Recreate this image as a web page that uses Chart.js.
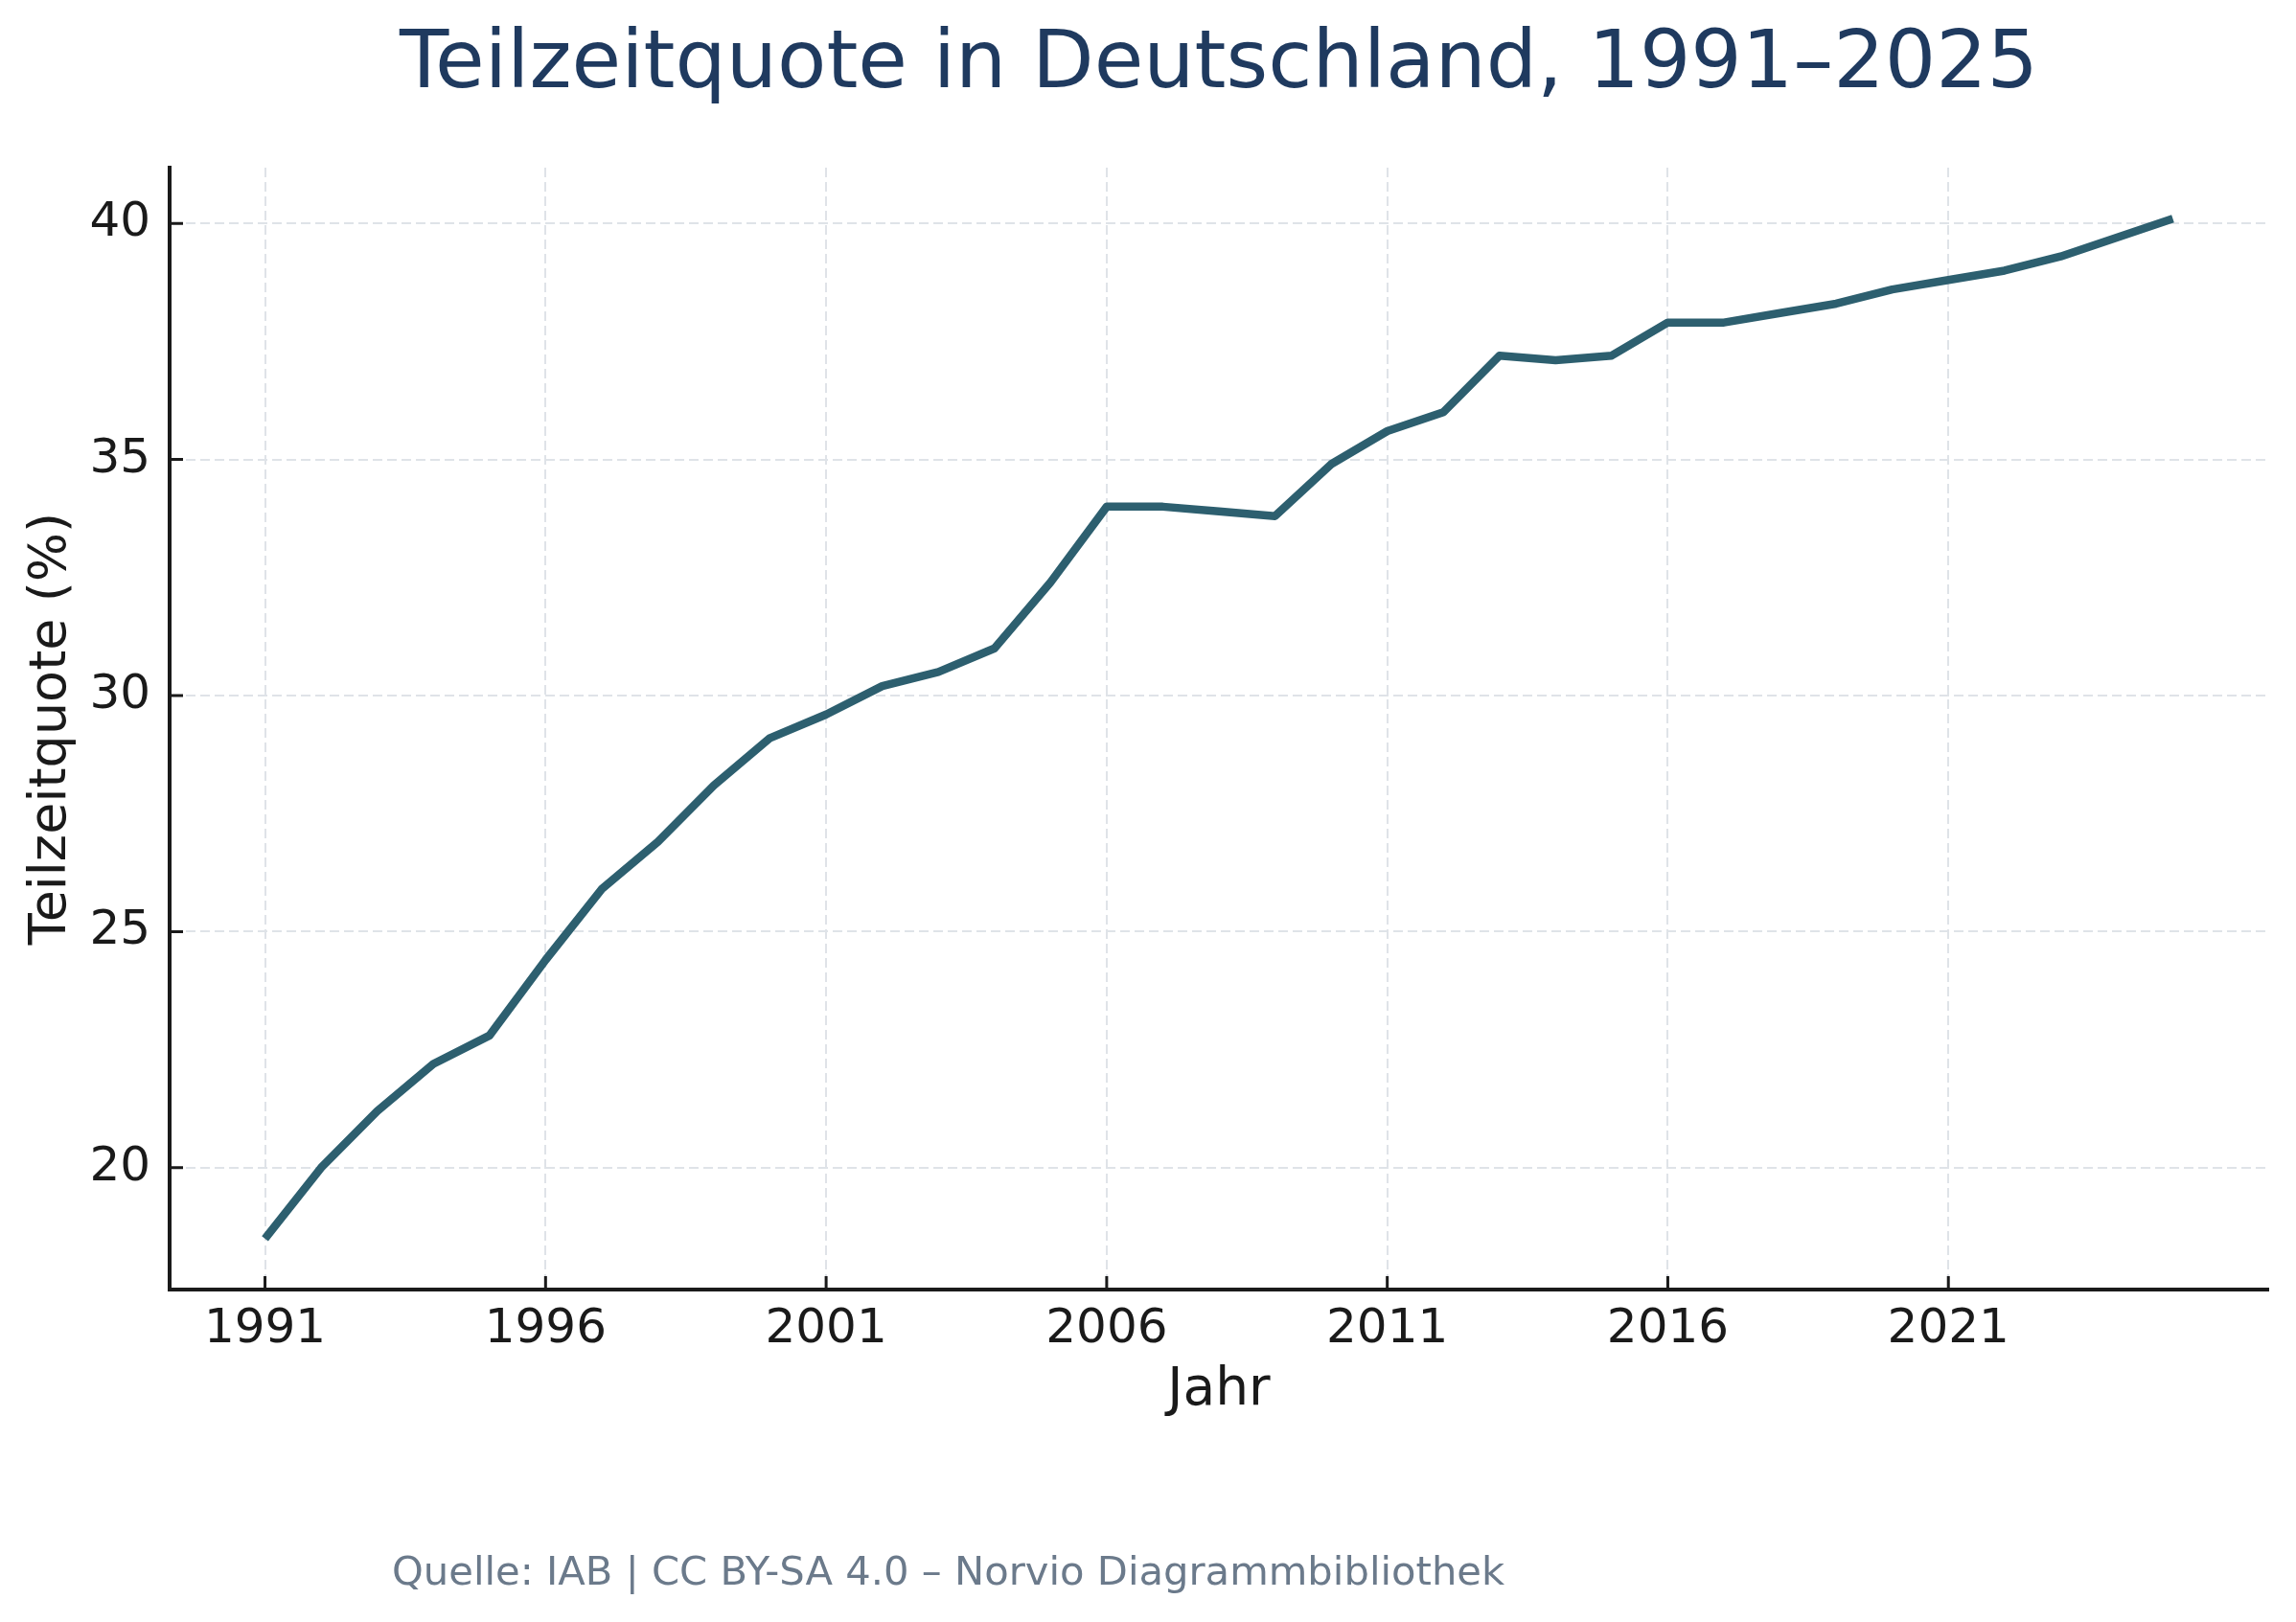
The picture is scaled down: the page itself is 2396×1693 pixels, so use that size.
<!DOCTYPE html>
<html lang="de">
<head>
<meta charset="utf-8">
<title>Teilzeitquote in Deutschland, 1991–2025</title>
<script src="https://cdn.jsdelivr.net/npm/chart.js@4.4.1/dist/chart.umd.min.js"></script>
<style>
  html, body { margin: 0; padding: 0; background: #fff; }
  canvas { display: block; }
</style>
</head>
<body>
<canvas id="chart-teilzeit" width="2396" height="1693"></canvas>
<script>
// Daten
const years = [1991, 1992, 1993, 1994, 1995, 1996, 1997, 1998, 1999, 2000,
  2001, 2002, 2003, 2004, 2005, 2006, 2007, 2008, 2009, 2010,
  2011, 2012, 2013, 2014, 2015, 2016, 2017, 2018, 2019, 2020,
  2021, 2022, 2023, 2024, 2025];
const teilzeitquote = [18.5, 20.0, 21.2, 22.2, 22.8, 24.4, 25.9, 26.9, 28.1, 29.1,
  29.6, 30.2, 30.5, 31.0, 32.4, 34.0, 34.0, 33.9, 33.8, 34.9,
  35.6, 36.0, 37.2, 37.1, 37.2, 37.9, 37.9, 38.1, 38.3, 38.6,
  38.8, 39.0, 39.3, 39.7, 40.1];
const xTicks = [1991, 1996, 2001, 2006, 2011, 2016, 2021];
const yTicks = [20, 25, 30, 35, 40];

const titleText = 'Teilzeitquote in Deutschland, 1991–2025';
const xTitle = 'Jahr';
const yTitle = 'Teilzeitquote (%)';
const sourceText = 'Quelle: IAB | CC BY-SA 4.0 – Norvio Diagrammbibliothek';

const FONT = "'DejaVu Sans', 'Noto Sans', sans-serif";
const INK = '#1a1a1a';

// 5 % Rand wie bei matplotlib
const margin = (lo, hi) => (hi - lo) * 0.05;
const xMin = years[0] - margin(years[0], years[years.length - 1]);
const xMax = years[years.length - 1] + margin(years[0], years[years.length - 1]);
const yLo = Math.min(...teilzeitquote), yHi = Math.max(...teilzeitquote);
const yMin = yLo - margin(yLo, yHi);
const yMax = yHi + margin(yLo, yHi);

// kurze Striche nach innen an den Achsen
const innerTicks = {
  id: 'innerTicks',
  afterDraw(chart) {
    const { ctx, chartArea, scales } = chart;
    ctx.save();
    ctx.strokeStyle = INK;
    ctx.lineWidth = 3;
    ctx.beginPath();
    scales.x.ticks.forEach(t => {
      const px = scales.x.getPixelForValue(t.value);
      ctx.moveTo(px, chartArea.bottom);
      ctx.lineTo(px, chartArea.bottom - 14);
    });
    scales.y.ticks.forEach(t => {
      const py = scales.y.getPixelForValue(t.value);
      ctx.moveTo(chartArea.left, py);
      ctx.lineTo(chartArea.left + 14, py);
    });
    ctx.stroke();
    ctx.restore();
  }
};

// Quellenangabe unten
const sourceNote = {
  id: 'sourceNote',
  afterDraw(chart) {
    const { ctx } = chart;
    ctx.save();
    ctx.font = '41.7px ' + FONT;
    ctx.fillStyle = '#6b7a8b';
    ctx.textAlign = 'left';
    ctx.textBaseline = 'alphabetic';
    ctx.fillText(sourceText, 409, 1654);
    ctx.restore();
  }
};

new Chart(document.getElementById('chart-teilzeit'), {
  type: 'line',
  data: {
    datasets: [{
      data: years.map((y, i) => ({ x: y, y: teilzeitquote[i] })),
      borderColor: '#2d5f6f',
      borderWidth: 8.5,
      pointRadius: 0,
      tension: 0,
      borderJoinStyle: 'round',
      borderCapStyle: 'butt',
      fill: false
    }]
  },
  options: {
    responsive: false,
    animation: false,
    devicePixelRatio: 1,
    layout: { padding: { left: 0, right: 29, top: 0, bottom: 0 } },
    plugins: {
      legend: { display: false },
      tooltip: { enabled: false },
      title: {
        display: true,
        text: titleText,
        fullSize: false,
        color: '#1f3a5f',
        font: { family: FONT, size: 84, weight: 'normal', lineHeight: 1.2 },
        padding: { top: 18.7, bottom: 55.5 }
      }
    },
    scales: {
      x: {
        type: 'linear',
        min: xMin,
        max: xMax,
        afterBuildTicks: scale => { scale.ticks = xTicks.map(v => ({ value: v })); },
        afterFit: scale => { scale.height = 1693 - 1346; },
        ticks: {
          color: INK,
          padding: 12,
          font: { family: FONT, size: 50 },
          callback: v => String(v)
        },
        grid: { color: '#dfe3e8', lineWidth: 2, drawTicks: false },
        border: { display: true, color: INK, width: 4, dash: [10, 5] },
        title: {
          display: true,
          text: xTitle,
          color: INK,
          font: { family: FONT, size: 55, lineHeight: 1.2 },
          padding: { top: 0, bottom: 208 }
        }
      },
      y: {
        type: 'linear',
        min: yMin,
        max: yMax,
        afterBuildTicks: scale => { scale.ticks = yTicks.map(v => ({ value: v })); },
        afterFit: scale => { scale.width = 177; },
        ticks: {
          color: INK,
          padding: 20,
          font: { family: FONT, size: 50 },
          callback: v => String(v)
        },
        grid: { color: '#dfe3e8', lineWidth: 2, drawTicks: false },
        border: { display: true, color: INK, width: 4, dash: [10, 5] },
        title: {
          display: true,
          text: yTitle,
          color: INK,
          font: { family: FONT, size: 54, lineHeight: 1.2 },
          padding: { top: 22, bottom: 0 }
        }
      }
    }
  },
  plugins: [innerTicks, sourceNote]
});
</script>
</body>
</html>
